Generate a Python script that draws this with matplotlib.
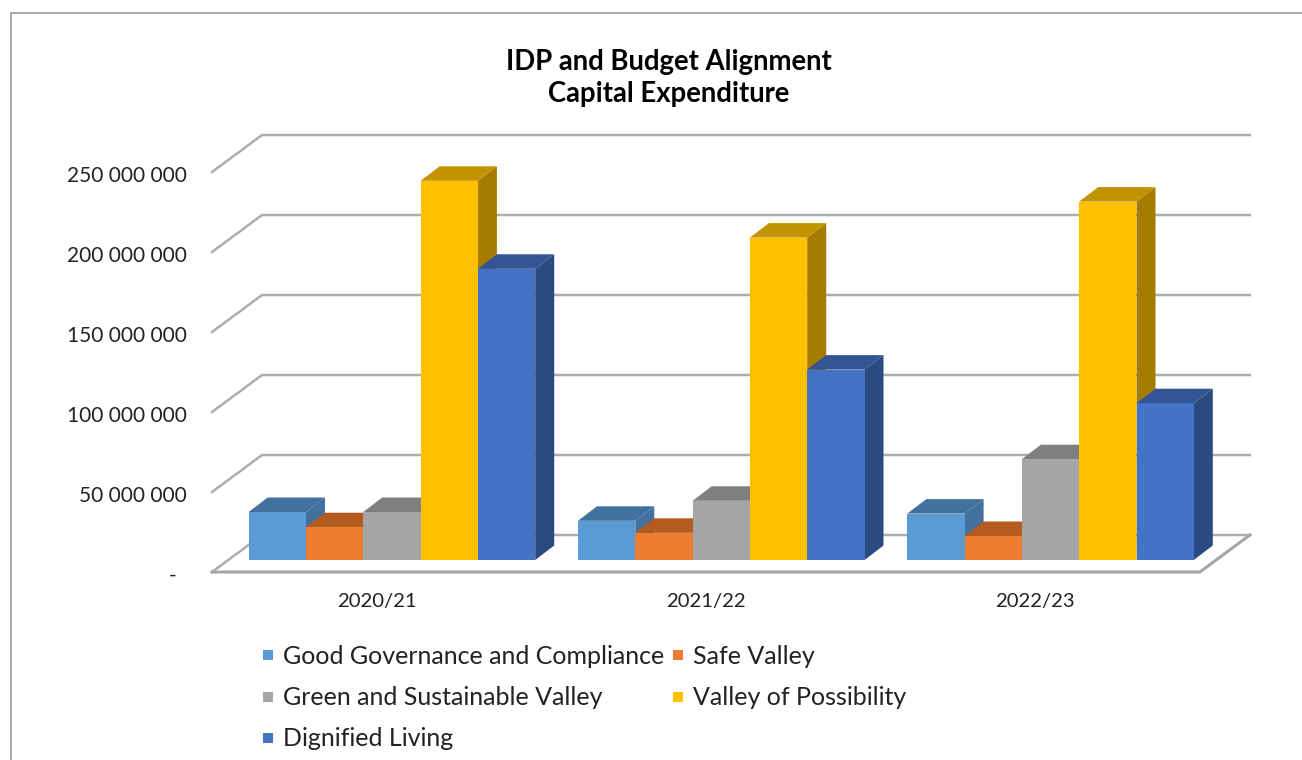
import matplotlib
matplotlib.use("Agg")
import matplotlib.pyplot as plt
from matplotlib.lines import Line2D
from matplotlib.patches import Rectangle
from matplotlib.transforms import ScaledTranslation
import numpy as np

W, H = 1302, 760
plt.rcParams['font.family'] = ['Lato', 'DejaVu Sans']

categories = ['2020/21', '2021/22', '2022/23']
good_governance = [30e6, 24.5e6, 29e6]
safe_valley = [20.5e6, 17e6, 15e6]
green_valley = [30e6, 37e6, 63e6]
valley_possibility = [237e6, 201.5e6, 224e6]
dignified_living = [182e6, 119e6, 98e6]
y_ticks = [0, 50e6, 100e6, 150e6, 200e6, 250e6]
y_labels = ['-  ', '50 000 000', '100 000 000', '150 000 000', '200 000 000', '250 000 000']

series = [
    ('Good Governance and Compliance', good_governance, '#5B9BD5', '#41719C', '#41719C'),
    ('Safe Valley', safe_valley, '#ED7D31', '#B45B1F', '#AE5A21'),
    ('Green and Sustainable Valley', green_valley, '#A5A5A5', '#7F7F7F', '#787878'),
    ('Valley of Possibility', valley_possibility, '#FFC000', '#C49400', '#A67C00'),
    ('Dignified Living', dignified_living, '#4472C4', '#345593', '#2A4A80'),
]

fig = plt.figure(figsize=(W / 100, H / 100), dpi=100, facecolor='white')
L, R, B, T = 212, 1250, 572, 135
ax = fig.add_axes([L / W, 1 - B / H, (R - L) / W, (B - T) / H])
px_x = 1 / 329.3            # category units per pixel
px_y = 50e6 / 80            # value units per pixel
ax.set_xlim(-0.5, -0.5 + (R - L) * px_x)
ax.set_ylim(0, (B - T) * px_y)
for s in ax.spines.values():
    s.set_visible(False)
ax.patch.set_alpha(0)

wall_dx, wall_dy = 50 * px_x, 37 * px_y      # front edge of floor -> back wall
bar_dx, bar_dy = 19 * px_x, 14.5 * px_y      # bar depth
base = 12 * px_y                             # bars stand set back on the floor
shift = 15.3 * px_x
bw = 57.3 * px_x
GRID = '#ADADAD'

# walls and floor
for v in y_ticks:
    ax.plot([-0.5, -0.5 + wall_dx, ax.get_xlim()[1]],
            [v, v + wall_dy, v + wall_dy], color=GRID, lw=1.8,
            solid_joinstyle='miter', zorder=1, clip_on=False)
ax.plot([-0.5, 2.5, 2.5 + wall_dx], [0, 0, wall_dy], color='#A6A6A6', lw=2.2,
        solid_joinstyle='miter', zorder=1, clip_on=False)

# bars: front face via bar(), top and side offset by the depth
x = np.arange(len(categories))
z = 2
n = len(series)
for i in x:
    for j, (name, vals, front, top, side) in enumerate(series):
        v = vals[i]
        x0 = i + shift + (j - n / 2) * bw
        x1 = x0 + bw
        y1 = base + v
        ax.fill([x1, x1 + bar_dx, x1 + bar_dx, x1],
                [base, base + bar_dy, y1 + bar_dy, y1], color=side, lw=0, zorder=z, clip_on=False)
        ax.fill([x0, x0 + bar_dx, x1 + bar_dx, x1],
                [y1, y1 + bar_dy, y1 + bar_dy, y1], color=top, lw=0, zorder=z, clip_on=False)
        ax.bar(x0, v, width=bw, bottom=base, align='edge', color=front, lw=0, zorder=z + 0.5)
        z += 1

ax.set_yticks(y_ticks)
ax.set_yticklabels(y_labels, fontsize=15, color='#222222')
ax.set_xticks(x)
ax.set_xticklabels(categories, fontsize=14.6, color='#222222')
ax.tick_params(axis='y', length=0, pad=18)
ax.tick_params(axis='x', length=0, pad=15)
offset = ScaledTranslation(0, -2 / 100, fig.dpi_scale_trans)
for lab in ax.get_yticklabels():
    lab.set_transform(lab.get_transform() + offset)

fig.text(669 / W, 1 - 78 / H, 'IDP and Budget Alignment\nCapital Expenditure', ha='center', va='center',
         fontsize=19.8, fontweight='bold', color='black', linespacing=1.27)

order = [0, 2, 4, 1, 3]
handles = [Line2D([], [], marker='s', ls='none', ms=7.5, mew=0, color=series[k][2]) for k in order]
labels = [series[k][0] for k in order]
fig.legend(handles, labels, ncol=2, loc='upper left', bbox_to_anchor=(250 / W, 1 - 635 / H),
           frameon=False, handlelength=0.65, handletextpad=0.28, labelspacing=0.73,
           columnspacing=0.2, borderpad=0.4, borderaxespad=0, labelcolor='#222222',
           prop={'size': 18})

# chart frame: top and left edges only reach the crop
fig.add_artist(Rectangle((10.5 / W, -0.02), 1.1, 1.02 - 13 / H, transform=fig.transFigure,
                         fill=False, ec='#A0A0A0', lw=1.3))
fig.savefig('out.png', dpi=100)
